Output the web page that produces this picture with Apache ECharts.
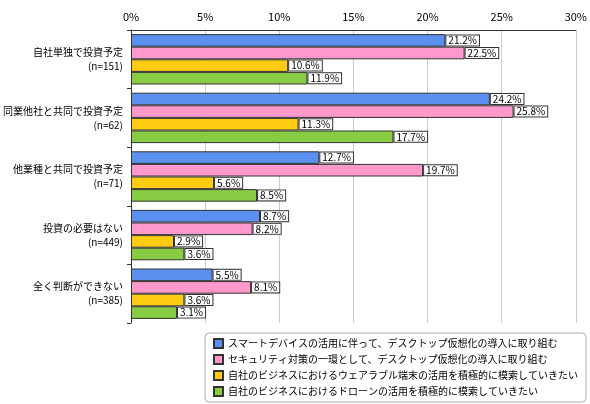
<!DOCTYPE html><html><head><meta charset="utf-8"><script src="https://cdn.jsdelivr.net/npm/echarts@6/dist/echarts.min.js"></script></head><body style="margin:0;background:#fff"><div id="c" style="width:590px;height:404px"></div><script>
const categories=['自社単独で投資予定\n(n=151)','同業他社と共同で投資予定\n(n=62)','他業種と共同で投資予定\n(n=71)','投資の必要はない\n(n=449)','全く判断ができない\n(n=385)'];
const seriesNames=['スマートデバイスの活用に伴って、デスクトップ仮想化の導入に取り組む','セキュリティ対策の一環として、デスクトップ仮想化の導入に取り組む','自社のビジネスにおけるウェアラブル端末の活用を積極的に模索していきたい','自社のビジネスにおけるドローンの活用を積極的に模索していきたい'];
const s1=[21.2,24.2,12.7,8.7,5.5];
const s2=[22.5,25.8,19.7,8.2,8.1];
const s3=[10.6,11.3,5.6,2.9,3.6];
const s4=[11.9,17.7,8.5,3.6,3.1];
const colors=['#5b8ff0','#ff99cc','#ffcc11','#88cc44'];
const ch=echarts.init(document.getElementById('c'));
const font='"Noto Sans CJK JP"';
ch.setOption({
 textStyle:{fontFamily:font},
 grid:{left:128,right:8,top:30,bottom:81},
 xAxis:{type:'value',position:'top',min:0,max:30,interval:5,
  axisLabel:{formatter:'{value}%',color:'#000',fontSize:11,fontFamily:font},
  axisLine:{show:true,lineStyle:{color:'#333'}},axisTick:{show:false},
  splitLine:{lineStyle:{color:'#ccc'}}},
 yAxis:{type:'category',inverse:true,data:categories,
  axisLabel:{color:'#000',fontSize:10,align:'right',lineHeight:14},
  axisLine:{lineStyle:{color:'#333'}},axisTick:{show:true,length:4,lineStyle:{color:'#333'}}},
 legend:{orient:'vertical',left:205,top:333,itemWidth:9,itemHeight:9,itemGap:5,
  padding:[5,8],borderColor:'#aaa',borderWidth:1,borderRadius:4,
  textStyle:{fontSize:10,color:'#000'},icon:'rect'},
 series:[s1,s2,s3,s4].map((d,i)=>({name:seriesNames[i],type:'bar',data:d,barGap:'0%',barCategoryGap:'14%',
  itemStyle:{color:colors[i],borderColor:'#333',borderWidth:1},
  label:{show:true,position:'right',distance:1,formatter:p=>p.value.toFixed(1)+'%',color:'#000',fontSize:10,
   backgroundColor:'#fff',borderColor:'#333',borderWidth:1,padding:[0,2]}}))
});
</script></body></html>
